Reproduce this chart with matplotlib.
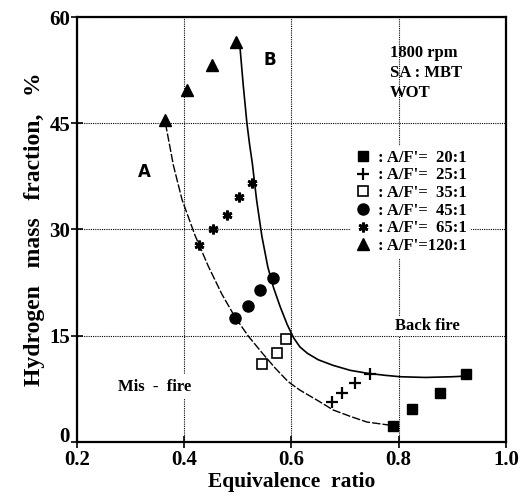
import numpy as np
import matplotlib.pyplot as plt
from matplotlib.transforms import ScaledTranslation

plt.rcParams['font.family'] = 'Liberation Serif'
plt.rcParams['font.weight'] = 'bold'

# measured points, equivalence ratio vs hydrogen mass fraction (%)
af20_x = [0.790, 0.825, 0.877, 0.926]
af20_y = [2.3, 4.7, 6.9, 9.6]
af25_x = [0.676, 0.694, 0.719, 0.747]
af25_y = [5.6, 6.9, 8.3, 9.6]
af35_x = [0.545, 0.573, 0.590]
af35_y = [11.0, 12.6, 14.5]
af45_x = [0.495, 0.519, 0.541, 0.566]
af45_y = [17.5, 19.2, 21.5, 23.2]
af65_x = [0.428, 0.454, 0.480, 0.502, 0.527]
af65_y = [27.8, 30.1, 32.1, 34.6, 36.6]
af120_x = [0.365, 0.405, 0.452, 0.497]
af120_y = [45.4, 49.7, 53.2, 56.5]

# traced trend curves
curveA_x = [0.365, 0.380, 0.396, 0.420, 0.445, 0.470, 0.495, 0.520, 0.545,
            0.570, 0.594, 0.616, 0.650, 0.678, 0.710, 0.741, 0.770, 0.790]
curveA_y = [45.0, 39.0, 34.2, 29.2, 24.8, 20.9, 17.6, 14.9, 12.6,
            10.4, 8.5, 7.3, 5.8, 4.5, 3.6, 2.8, 2.5, 2.3]
curveB_x = [0.497, 0.504, 0.510, 0.517, 0.522, 0.527, 0.535, 0.545, 0.556,
            0.567, 0.579, 0.592, 0.604, 0.616, 0.630, 0.650, 0.678, 0.710,
            0.741, 0.775, 0.803, 0.850, 0.900, 0.928]
curveB_y = [56.5, 55.8, 50.5, 45.0, 42.0, 39.4, 34.2, 29.0, 24.7,
            21.7, 19.1, 16.6, 14.7, 13.4, 12.5, 11.6, 10.8, 10.1,
            9.7, 9.4, 9.2, 9.1, 9.2, 9.3]

xticks = [0.2, 0.4, 0.6, 0.8, 1.0]
yticks = [0, 15, 30, 45, 60]

fig = plt.figure(figsize=(5.22, 5.01), dpi=100)
ax = fig.add_axes([0.1475, 0.118, 0.8215, 0.848])

ax.grid(True, linestyle=(0, (1, 1)), color='black', linewidth=0.8)
ax.set_axisbelow(True)

ax.plot(curveA_x, curveA_y, color='black', linewidth=1.0, linestyle=(0, (6, 1.5)))
ax.plot(curveB_x, curveB_y, color='black', linewidth=1.2)

ax.plot(af20_x, af20_y, 's', color='black', markersize=7, label=": A/F'=  20:1")
ax.plot(af25_x, af25_y, '+', color='black', markersize=8, mew=1.6, label=": A/F'=  25:1")
ax.plot(af35_x, af35_y, 's', mfc='white', mec='black', markersize=7, mew=1.2, label=": A/F'=  35:1")
ax.plot(af45_x, af45_y, 'o', color='black', markersize=8, label=": A/F'=  45:1")
ax.plot(af65_x, af65_y, marker=(6, 2, 0), linestyle='none', color='black', markersize=7, mew=2,
        label=": A/F'=  65:1")
ax.plot(af120_x, af120_y, '^', color='black', markersize=8, label=": A/F'=120:1")

leg = ax.legend(loc='upper left', bbox_to_anchor=(0.62, 0.715), frameon=True, fancybox=False,
                edgecolor='white', framealpha=1, handlelength=1.0, handletextpad=0.4,
                labelspacing=0.1, borderpad=0.2, prop={'size': 12, 'weight': 'bold'})

ax.text(0.784, 52.1, '1800 rpm\nSA : MBT\nWOT', fontsize=12, fontweight='bold',
        va='center', ha='left', linespacing=1.3)
ax.text(0.326, 38.1, 'A', family='DejaVu Sans', fontsize=12, fontweight='bold', ha='center', va='center')
ax.text(0.56, 54.0, 'B', family='DejaVu Sans', fontsize=12, fontweight='bold', ha='center', va='center')
ax.text(0.853, 16.3, 'Back fire', fontsize=12, fontweight='bold', ha='center', va='center',
        bbox=dict(facecolor='white', edgecolor='none', pad=1))
ax.text(0.345, 7.8, 'Mis  -  fire', fontsize=12, fontweight='bold', ha='center', va='center',
        bbox=dict(facecolor='white', edgecolor='none', pad=3))

ax.set_xlim(0.2, 1.0)
ax.set_ylim(0, 60)
ax.set_xticks(xticks)
ax.set_yticks(yticks)
ax.set_xticklabels(['%.1f' % v for v in xticks])
ax.tick_params(direction='inout', length=8, width=1.2, labelsize=15, pad=1)
ax.tick_params(axis='x', pad=2)
for lab in ax.get_xticklabels() + ax.get_yticklabels():
    lab.set_fontweight('bold')
# the zero label sits a little above the axis line
zero_lab = ax.get_yticklabels()[0]
zero_lab.set_transform(zero_lab.get_transform() + ScaledTranslation(0, 5 / 72, fig.dpi_scale_trans))
for s in ax.spines.values():
    s.set_linewidth(1.6)

ax.set_xlabel('Equivalence  ratio', fontsize=15.5, fontweight='bold', labelpad=1)
ax.set_ylabel('Hydrogen   mass   fraction,   %', fontsize=17, fontweight='bold', labelpad=3)

fig.savefig('out.png', dpi=100)
